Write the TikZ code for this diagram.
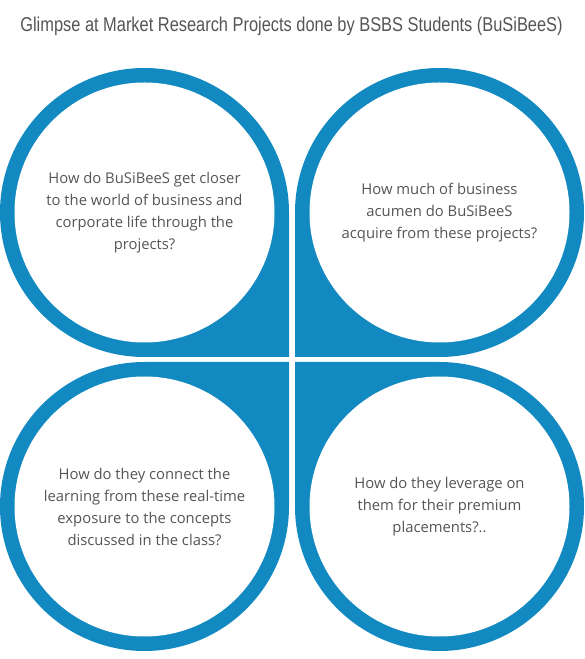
\documentclass[tikz,border=0pt]{standalone}
\usepackage{fontspec}
\setmainfont{Open Sans}
\newfontfamily\titlefont[FakeStretch=0.82]{Liberation Sans}
\definecolor{bsblue}{RGB}{18,137,192}
\definecolor{bstext}{RGB}{85,85,85}
\tikzset{
  qtext/.style={align=center, text=bstext, font=\fontsize{14.8}{22}\selectfont},
}
\begin{document}
\begin{tikzpicture}[x=1pt, y=1pt, line join=round, declare function={R=144.5; r=130;}]
			\useasboundingbox (0,0) rectangle (585,659);
			\path (144.5,446.5) coordinate (TL)
			(439.5,446.5) coordinate (TR)
			(144.5,152.5) coordinate (BL)
			(439.5,152.5) coordinate (BR);
			% blue drops, square corner towards the middle
			\foreach \x/\goc in {TL/-45,TR/-135,BL/45,BR/135}{
			\fill[bsblue] (\x) ++(\goc+45:R) -- ++(\goc-45:R) -- ++(\goc-135:R)
			arc[start angle=\goc-45, delta angle=-270, radius=R] -- cycle;
			\fill[white] (\x) circle (r);
			}
			\node[font=\titlefont\fontsize{20}{24}\selectfont, text=bstext] (title) at (291.5,633) {Glimpse at Market Research Projects done by BSBS Students (BuSiBeeS)};
			\node[qtext] (qTL) at (TL) {How do BuSiBeeS get closer\\to the world of business and\\corporate life through the\\projects?};
			\node[qtext] (qTR) at (TR) {How much of business\\acumen do BuSiBeeS\\acquire from these projects?};
			\node[qtext] (qBL) at (BL) {How do they connect the\\learning from these real-time\\exposure to the concepts\\discussed in the class?};
			\node[qtext] (qBR) at (BR) {How do they leverage on\\them for their premium\\placements?..};
		\end{tikzpicture}
\end{document}
